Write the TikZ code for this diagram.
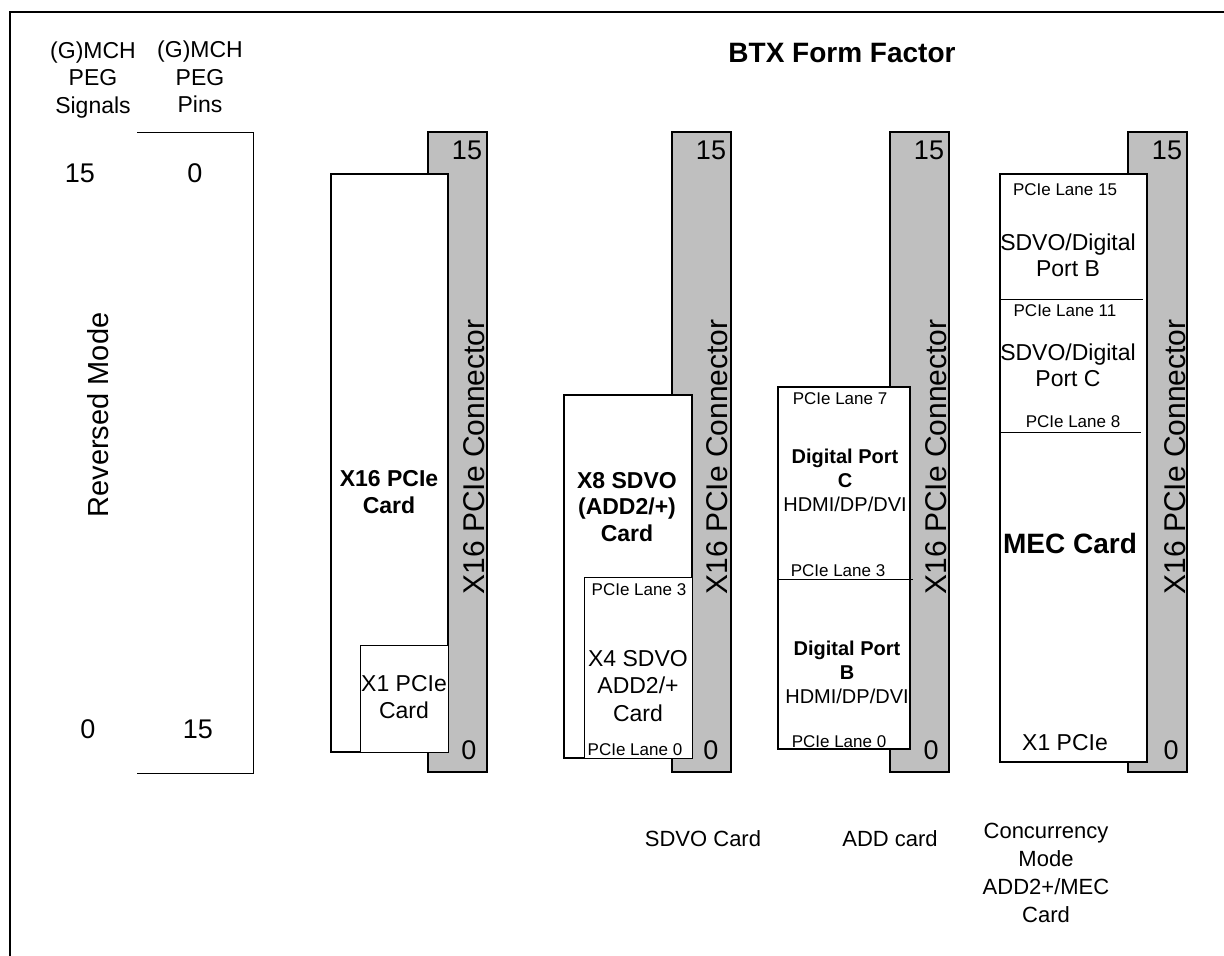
\documentclass[tikz,border=0pt]{standalone}
\usepackage{fontspec}
\setmainfont{Liberation Sans}
\usetikzlibrary{positioning}

\begin{document}
\begin{tikzpicture}[x=1pt,y=-1pt,
  conn/.style={draw,line width=1.6pt,fill=gray!50},
  card/.style={draw,line width=1.6pt,fill=white},
  subcard/.style={draw,line width=0.8pt,fill=white},
  thin/.style={line width=0.8pt},
  lane/.style={font=\fontsize{17}{20}\selectfont,inner sep=0pt},
  txt/.style={font=\fontsize{23}{27.5}\selectfont,align=center,inner sep=0pt},
  btxt/.style={font=\fontsize{23}{26.5}\selectfont\bfseries,align=center,inner sep=0pt},
  port/.style={font=\fontsize{20}{24}\selectfont,align=center,inner sep=0pt},
  num/.style={font=\fontsize{27}{32}\selectfont,inner sep=0pt},
  conntxt/.style={font=\fontsize{30}{36}\selectfont,rotate=90,inner sep=0pt},
  foot/.style={font=\fontsize{22}{28}\selectfont,align=center,inner sep=0pt},
]
\useasboundingbox (0,0) rectangle (1224,956);

% Frame
\draw[line width=2pt] (10,956) -- (10,12) -- (1224,12);

% === LEFT: signal / pin columns ===
\node[txt] (sig_head) at (93,80) {(G)MCH\\PEG\\Signals};
\node[txt] (pin_head) at (200,77) {(G)MCH\\PEG\\Pins};
\draw[thin] (137,132) -- (253,132) -- (253,773) -- (137,773);

\node[num] (sig_top) at (80,173) {15};
\node[num] (pin_top) at (195,173) {0};
\node[num] (sig_bot) at (88,729) {0};
\node[num] (pin_bot) at (198,729) {15};
\node[font=\fontsize{29}{34}\selectfont,rotate=90,inner sep=0pt] (rev_mode) at (98,415) {Reversed Mode};

% Title
\node[font=\fontsize{28}{34}\selectfont\bfseries,inner sep=0pt] (title) at (842,53) {BTX Form Factor};

% === Connector 1: X16 PCIe card ===
\draw[conn] (428,132) rectangle (487,772);
\node[num] (c1_top) at (467,150) {15};
\node[num] (c1_bot) at (469,750) {0};
\node[conntxt] (c1_lbl) at (474,457) {X16 PCIe Connector};

\draw[card] (331,174) rectangle (448,752);
\draw[subcard] (360,645) rectangle (448,752);
\node[btxt] (x16_txt) at (389,492) {X16 PCIe\\Card};
\node[txt] (x1_txt) at (404,697) {X1 PCIe\\Card};

% === Connector 2: SDVO card ===
\draw[conn] (672,132) rectangle (731,772);
\node[num] (c2_top) at (711,150) {15};
\node[num] (c2_bot) at (711,750) {0};
\node[conntxt] (c2_lbl) at (717,457) {X16 PCIe Connector};

\draw[card] (564,395) rectangle (692,758);
\draw[subcard] (584,577) rectangle (692,758);
\node[btxt] (x8_txt) at (627,507) {X8 SDVO\\(ADD2/+)\\Card};
\node[lane] (x4_l3) at (639,590) {PCIe Lane 3};
\node[txt] (x4_txt) at (638,686) {X4 SDVO\\ADD2/+\\Card};
\node[lane] (x4_l0) at (635,750) {PCIe Lane 0};

\node[foot] (sdvo_foot) at (703,839) {SDVO Card};

% === Connector 3: ADD card ===
\draw[conn] (890,132) rectangle (949,772);
\node[num] (c3_top) at (929,150) {15};
\node[num] (c3_bot) at (931,750) {0};
\node[conntxt] (c3_lbl) at (936,457) {X16 PCIe Connector};

\draw[card] (778,387) rectangle (910,749);
\draw[thin] (778,579) -- (913,579);
\node[lane] (add_l7) at (840,399) {PCIe Lane 7};
\node[port] (add_pc) at (845,480) {\textbf{Digital Port}\\\textbf{C}\\HDMI/DP/DVI};
\node[lane] (add_l3) at (838,571) {PCIe Lane 3};
\node[port] (add_pb) at (847,672) {\textbf{Digital Port}\\\textbf{B}\\HDMI/DP/DVI};
\node[lane] (add_l0) at (839,742) {PCIe Lane 0};

\node[foot] (add_foot) at (890,839) {ADD card};

% === Connector 4: MEC card ===
\draw[conn] (1128,132) rectangle (1187,772);
\node[num] (c4_top) at (1167,150) {15};
\node[num] (c4_bot) at (1171,750) {0};
\node[conntxt] (c4_lbl) at (1175,457) {X16 PCIe Connector};

\draw[card] (1000,174) rectangle (1147,762);
\draw[thin] (1000,299) -- (1143,299);
\draw[thin] (1000,432) -- (1141,432);
\node[lane] (mec_l15) at (1065,190) {PCIe Lane 15};
\node[txt,font=\fontsize{23}{26}\selectfont] (mec_pb) at (1068,255) {SDVO/Digital\\Port B};
\node[lane] (mec_l11) at (1065,311) {PCIe Lane 11};
\node[txt,font=\fontsize{23}{26}\selectfont] (mec_pc) at (1068,365) {SDVO/Digital\\Port C};
\node[lane] (mec_l8) at (1073,422) {PCIe Lane 8};
\node[font=\fontsize{28}{34}\selectfont\bfseries,inner sep=0pt] (mec_txt) at (1070,543) {MEC Card};
\node[txt] (mec_x1) at (1065,743) {X1 PCIe};

\node[foot] (mec_foot) at (1046,873) {Concurrency\\Mode\\ADD2+/MEC\\Card};

\end{tikzpicture}
\end{document}
